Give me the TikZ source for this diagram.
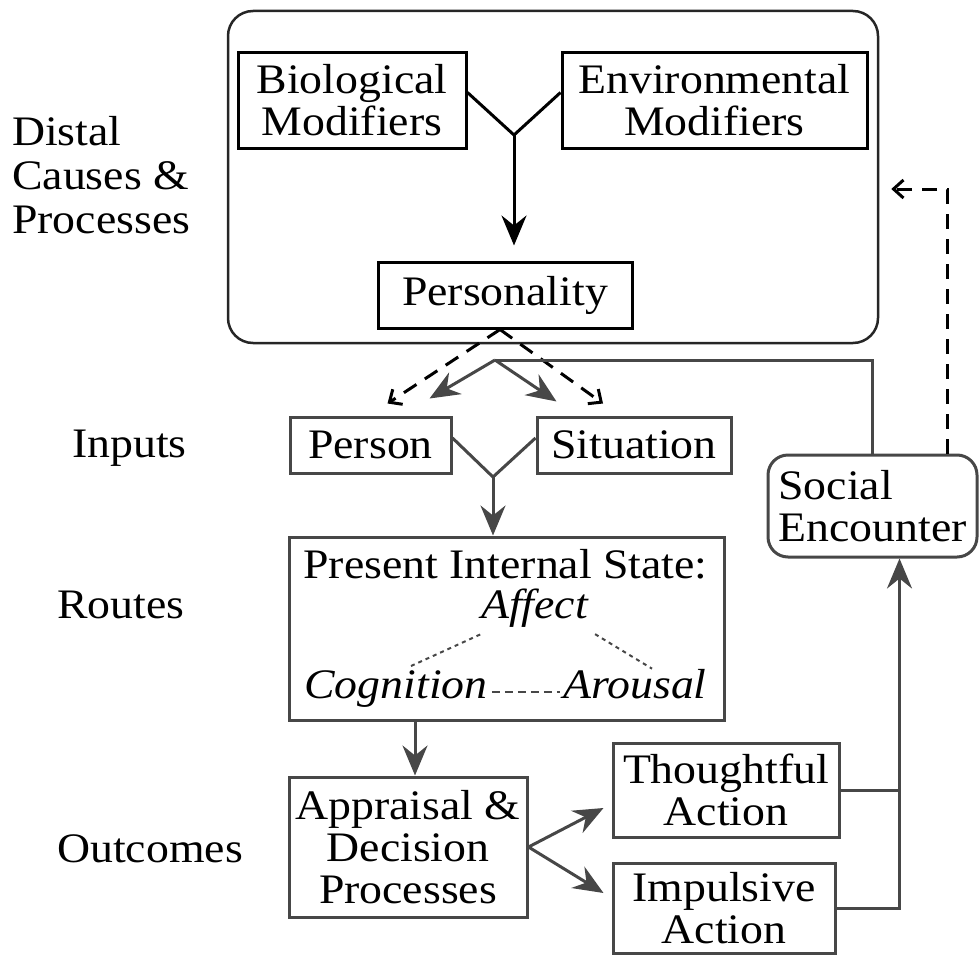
\documentclass[tikz,border=0pt]{standalone}
\usepackage{fontspec}
\setmainfont{Liberation Serif}[FakeStretch=1.09]
\usepackage{tikz}
\usetikzlibrary{arrows.meta,shapes}
\definecolor{linegray}{rgb}{0.28, 0.28, 0.28}
\tikzstyle{box}=[rectangle, draw, line width=3pt, inner sep=0pt, align=center]
\tikzstyle{topbox}=[box, draw=black]
\tikzstyle{lowbox}=[box, draw=linegray]
\tikzstyle{rbox}=[lowbox, rounded corners=20pt]
\tikzstyle{lab}=[anchor=base west, inner sep=0pt]
\tikzstyle{itlab}=[anchor=base, inner sep=0pt, font=\fontsize{42}{42}\selectfont\itshape]
\tikzstyle{arr}=[line width=3pt, -{Stealth[length=30pt,width=25pt,inset=10pt]}]
\tikzstyle{darr}=[line width=3pt, dash pattern=on 15pt off 10pt, -{Straight Barb[length=10pt,width=18pt]}]
\tikzstyle{dots}=[line width=2pt, color=linegray, dash pattern=on 4pt off 4pt]

\begin{document}
\begin{tikzpicture}[x=1pt, y=-1pt, every node/.style={font=\fontsize{42}{42}\selectfont}]
		\useasboundingbox (0,0) rectangle (979,955);

		% distal causes
		\node[draw=black!85, line width=2.5pt, rounded corners=25pt, minimum width=650pt, minimum height=332pt] (distal) at (553,177) {};
		\node[anchor=north west, align=left, inner sep=0pt, font=\fontsize{42}{44}\selectfont] (distallab) at (12,116) {Distal\\Causes \&\\Processes};
		\node[topbox, minimum width=228pt, minimum height=95pt] (bio) at (352,100.5) {Biological\\Modifiers};
		\node[topbox, minimum width=305pt, minimum height=95pt] (env) at (714.5,100.5) {Environmental\\Modifiers};
		\node[topbox, minimum width=254pt, minimum height=66pt] (pers) at (505,295) {Personality};
		\coordinate (yj1) at (514,135);
		\draw[line width=3pt] ([yshift=8pt]bio.east) -- (yj1) -- ([yshift=8pt]env.west);
		\draw[arr, shorten >=15pt] (yj1) -- (yj1 |- pers.north);

		% left labels
		\node[lab] (inputs) at (72,457) {Inputs};
		\node[lab] (routes) at (57,618) {Routes};
		\node[lab] (outcomes) at (57,862) {Outcomes};

		% inputs
		\node[lowbox, minimum width=161pt, minimum height=56pt] (person) at (370.5,445) {Person};
		\node[lowbox, minimum width=194pt, minimum height=56pt] (situation) at (634,445) {Situation};
		\node[rbox, align=left, minimum width=209pt, minimum height=102pt] (social) at (872.5,506) {Social\\Encounter};

		\draw[darr] ([xshift=-5pt]pers.south) -- ([xshift=17pt,yshift=12pt]person.north);
		\draw[darr] ([xshift=-5pt]pers.south) -- ([xshift=-31pt,yshift=12pt]situation.north);

		\coordinate (split) at (495,360);
		\draw[line width=3pt, color=linegray] (social.north) |- (split);
		\draw[arr, color=linegray] (split) -- ([xshift=-23pt,yshift=17pt]person.north east);
		\draw[arr, color=linegray] (split) -- ([xshift=21pt,yshift=14pt]situation.north west);
		\draw[darr] ([xshift=75pt]social.north) |- ([xshift=12pt,yshift=-12pt]distal.east);

		% routes
		\node[lowbox, minimum width=435pt, minimum height=183pt] (state) at (506.5,628.5) {};
		\node[anchor=base, inner sep=0pt] (pis) at (505.5,578) {Present Internal State:};
		\node[itlab] (affect) at (534.5,618) {Affect};
		\node[itlab] (cog) at (396,698) {Cognition};
		\node[itlab] (arous) at (635,698) {Arousal};
		\draw[dots] ([xshift=15pt,yshift=4pt]cog.north) -- ([yshift=-7pt]affect.south west);
		\draw[dots] ([xshift=7pt,yshift=-7pt]affect.south east) -- ([xshift=17pt]arous.north);
		\draw[dots, dash pattern=on 8pt off 5pt, shorten <=4pt, shorten >=3pt] ([yshift=6pt]cog.base east) -- ([yshift=6pt]arous.base west);

		\coordinate (yj2) at (493,477);
		\draw[line width=3pt, color=linegray] ([yshift=7pt]person.east) -- (yj2) -- ([yshift=7pt]situation.west);
		\draw[arr, color=linegray] (yj2) -- (yj2 |- state.north);

		% outcomes
		\node[lowbox, minimum width=238pt, minimum height=140pt] (appraisal) at (408,847) {Appraisal \&\\Decision\\Processes};
		\node[lowbox, minimum width=226pt, minimum height=94pt] (thoughtful) at (726,790) {Thoughtful\\Action};
		\node[lowbox, minimum width=222pt, minimum height=90pt] (impulsive) at (724,908) {Impulsive\\Action};

		\draw[arr, color=linegray] ([xshift=7pt]appraisal.north |- state.south) -- ([xshift=7pt]appraisal.north);
		\draw[arr, color=linegray] (appraisal.east) -- ([xshift=-8pt,yshift=-18pt]thoughtful.west);
		\draw[arr, color=linegray] (appraisal.east) -- ([xshift=-8pt,yshift=15pt]impulsive.west);
		\draw[line width=3pt, color=linegray] (thoughtful.east) -- ++(60,0);
		\draw[arr, color=linegray] (impulsive.east) -| ([xshift=27pt]social.south);

\end{tikzpicture}
\end{document}
